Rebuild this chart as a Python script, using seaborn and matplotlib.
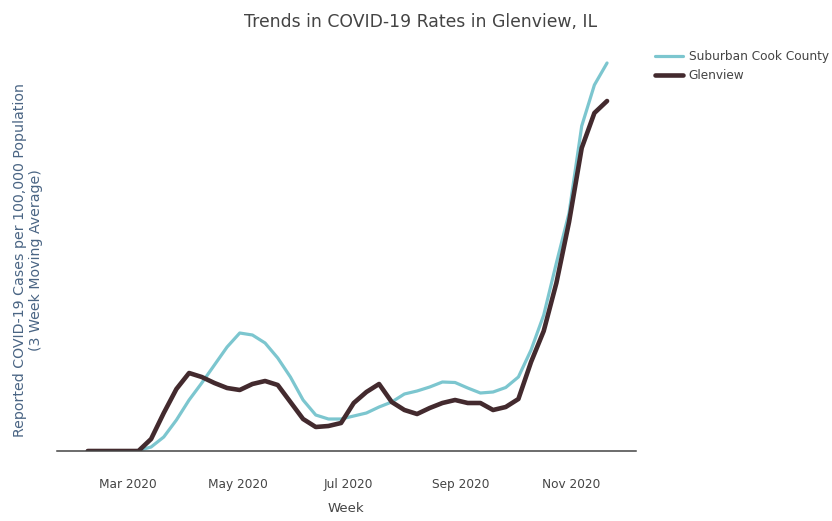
#!/usr/bin/env python3
"""
Glenview 与郊区库克县 COVID-19 周发病率趋势（3周移动平均）
"""

import matplotlib
matplotlib.use('Agg')
import matplotlib.pyplot as plt
import matplotlib.dates as mdates
import pandas as pd
import seaborn as sns

# 每周日期（周六）
weeks = pd.date_range('2020-02-08', periods=42, freq='7D')

# 每10万人报告病例（3周移动平均）
suburban_cook = [0, 0, 0, 0, 1, 8, 28, 62, 102, 136, 172, 208, 236, 232, 216, 186,
                 148, 102, 72, 64, 64, 70, 76, 88, 98, 114, 120, 128, 138, 137,
                 126, 116, 118, 127, 148, 202, 272, 376, 476, 650, 732, 776]
glenview = [0, 0, 0, 0, 0, 24, 76, 124, 156, 148, 136, 126, 122, 134, 140, 132,
            98, 64, 48, 50, 56, 96, 118, 134, 98, 82, 74, 86, 96, 102,
            96, 96, 82, 88, 104, 178, 240, 336, 458, 606, 676, 700]

series_names = ['Suburban Cook County', 'Glenview']
colors = {'Suburban Cook County': '#7cc6cf', 'Glenview': '#432a2e'}
widths = {'Suburban Cook County': 2.3, 'Glenview': 3.3}

sns.set_style('white')
plt.rcParams['font.family'] = ['DejaVu Sans']

fig = plt.figure(figsize=(8.32, 5.21), dpi=100)
ax = fig.add_axes([57 / 832, 70 / 521, 579 / 832, 411 / 521])

df = pd.DataFrame({
    'week': list(weeks) * 2,
    'rate': suburban_cook + glenview,
    'area': [series_names[0]] * len(weeks) + [series_names[1]] * len(weeks),
})

for name in series_names:
    sub = df[df['area'] == name]
    sns.lineplot(data=sub, x='week', y='rate', ax=ax, color=colors[name],
                 linewidth=widths[name], label=name, legend=False)

ax.set_xlim(pd.Timestamp('2020-01-22'), pd.Timestamp('2020-12-07'))
ax.set_ylim(0, 822)

ax.xaxis.set_major_locator(mdates.MonthLocator(bymonth=[3, 5, 7, 9, 11]))
ax.xaxis.set_major_formatter(mdates.DateFormatter('%b %Y'))
ax.tick_params(axis='x', length=0, pad=19.5, labelsize=8.7, labelcolor='#444444')
ax.set_yticks([])
ax.set_xlabel('')
ax.set_ylabel('')

for side in ['top', 'right', 'left']:
    ax.spines[side].set_visible(False)
ax.spines['bottom'].set_color('#444444')
ax.spines['bottom'].set_linewidth(1.1)

fig.text(0.505, 0.958, 'Trends in COVID-19 Rates in Glenview, IL', ha='center', va='center',
         fontsize=12.4, color='#444444')
fig.text(346 / 832, 13 / 521, 'Week', ha='center', va='center', fontsize=9.5, color='#444444')
fig.text(28 / 832, 261 / 521,
         'Reported COVID-19 Cases per 100,000 Population\n(3 Week Moving Average)',
         ha='center', va='center', rotation=90, fontsize=10.2, color='#4a6584',
         multialignment='center', linespacing=1.2)

handles, labels = ax.get_legend_handles_labels()
fig.legend(handles, labels, loc='upper left', bbox_to_anchor=(644 / 832, 482 / 521),
           frameon=False, fontsize=8.7, handlelength=2.3, handletextpad=0.5,
           labelspacing=0.5, labelcolor='#444444')

plt.savefig('out.png', dpi=100)
plt.close()
